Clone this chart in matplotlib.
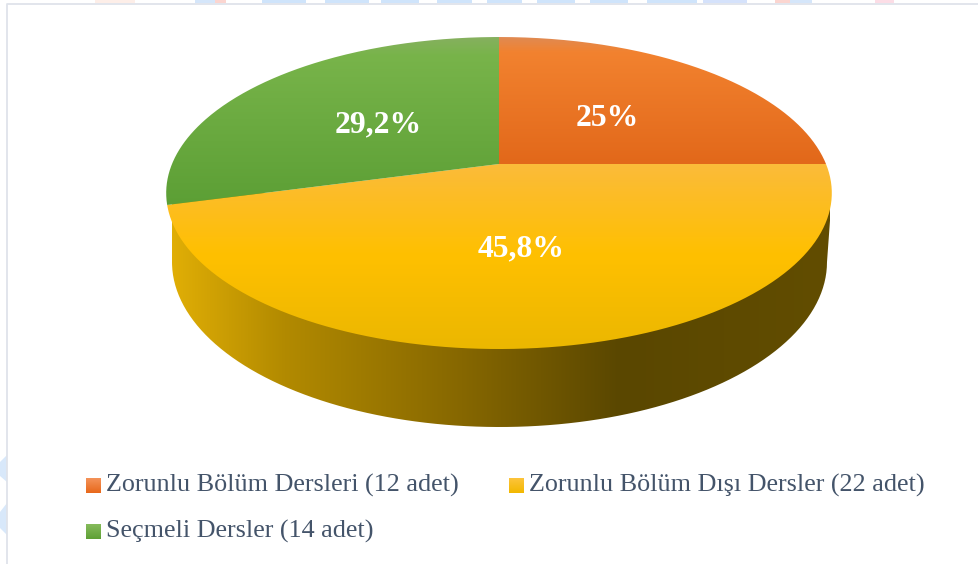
"""Pseudo-3D pie of course types, drawn in pixel coordinates."""

import matplotlib
matplotlib.use("Agg")

import matplotlib.pyplot as plt
import numpy as np
from matplotlib.colors import LinearSegmentedColormap
from matplotlib.patches import PathPatch, Polygon, Rectangle
from matplotlib.path import Path

categories = ["Zorunlu Bölüm Dersleri (12 adet)", "Zorunlu Bölüm Dışı Dersler (22 adet)", "Seçmeli Dersler (14 adet)"]
counts = [12, 22, 14]
pct_labels = ["25%", "45,8%", "29,2%"]

W, H = 979, 564
CX, CY = 499.0, 164.0
R, A, C = 327.0, 150.6, 0.186  # perspective of the top face
FACE_GRAD = [
    [(37, "#e08a52"), (52, "#f2822f"), (164, "#e2681a")],
    [(164, "#fbbb3a"), (255, "#ffc000"), (349, "#ebb700")],
    [(37, "#86b05f"), (55, "#78b44a"), (205, "#5c9f35")],
]
SIDE_GRAD = [(172, "#e0ae06"), (284, "#b28a00"), (462, "#866700"), (620, "#5a4700"), (830, "#624d00")]
SWATCH_GRAD = [("#f4935a", "#e8681a"), ("#fdc43c", "#f2b800"), ("#86bb5c", "#5ea035")]
TEXT_COLOR = "#44546a"


def project(theta):
    # theta clockwise from the top of the pie
    u, v = np.sin(theta), np.cos(theta)
    w = 1 + C * v
    return CX + R * u / w, CY - A * v / w


def gradient(ax, stops, x0, x1, y0, y1, clip, vertical=True):
    lo, hi = stops[0][0], stops[-1][0]
    cmap = LinearSegmentedColormap.from_list("g", [((p - lo) / (hi - lo), c) for p, c in stops])
    ramp = np.linspace(0, 1, 256)
    ramp = ramp[:, None] if vertical else ramp[None, :]
    im = ax.imshow(ramp, cmap=cmap, extent=(x0, x1, y1, y0), aspect="auto", interpolation="bilinear", zorder=2)
    im.set_clip_path(clip)


fig = plt.figure(figsize=(W / 100, H / 100), dpi=100)
ax = fig.add_axes([0, 0, 1, 1])

# faint page watermark showing around the chart frame
for x0, x1, col in [(95, 135, "#fdeee8"), (195, 215, "#d5e6fa"), (215, 226, "#fbd5d0"), (262, 306, "#cfe4fb"),
                    (325, 369, "#cfe4fb"), (381, 419, "#cfe4fb"), (437, 472, "#cfe4fb"), (487, 522, "#cfe4fb"),
                    (537, 575, "#cfe4fb"), (590, 628, "#cfe4fb"), (647, 697, "#cfe4fb"), (703, 747, "#d5e2fb"),
                    (775, 790, "#fbd5d0"), (790, 812, "#d5e6fa"), (875, 894, "#fcdde6")]:
    ax.add_patch(Rectangle((x0, 0), x1 - x0, 3, fc=col, ec="none", zorder=1))
ax.add_patch(Polygon([(7, 455), (7, 482), (0, 476), (0, 462)], fc="#d8e8fa", ec="none", zorder=1))
ax.add_patch(Polygon([(7, 503), (7, 535), (0, 528), (0, 512)], fc="#d8e8fa", ec="none", zorder=1))
ax.plot([7.5, 7.5, W], [H, 3.5, 3.5], color="#dfe3ea", lw=1.3, zorder=1)

# side wall
t = np.linspace(0, np.pi, 200)
wall = np.column_stack([499.5 + 327.5 * np.cos(t), 262 + 165 * np.sin(t)])
wall = np.vstack([[832, 193], wall, [167, 193], [832, 193]])
clip = PathPatch(Path(wall), transform=ax.transData, fc="none", ec="none")
ax.add_patch(clip)
gradient(ax, SIDE_GRAD, 172, 830, 0, H, clip, vertical=False)

# top face, slices clockwise from twelve o'clock
edges = np.cumsum([0] + counts) / sum(counts) * 2 * np.pi
for i in range(len(counts)):
    th = np.linspace(edges[i], edges[i + 1], 200)
    xs, ys = project(th)
    verts = np.vstack([[CX, CY], np.column_stack([xs, ys]), [CX, CY]])
    clip = PathPatch(Path(verts), transform=ax.transData, fc="none", ec="none")
    ax.add_patch(clip)
    stops = FACE_GRAD[i]
    gradient(ax, stops, 160, 840, stops[0][0], stops[-1][0], clip)

for label, x, y in zip(pct_labels, [607, 521, 378], [126, 256, 132]):
    ax.text(x, y, label, color="white", fontsize=22.8, fontweight="bold", family="Liberation Serif",
            ha="center", va="baseline", zorder=4)

# legend
legend_pos = [(86, 492), (509, 492), (86, 538)]
for i, (x, y) in enumerate(legend_pos):
    sw = Rectangle((x, y - 14), 15, 15, transform=ax.transData, fc="none", ec="none")
    ax.add_patch(sw)
    gradient(ax, [(y - 14, SWATCH_GRAD[i][0]), (y + 1, SWATCH_GRAD[i][1])], x, x + 15, y - 14, y + 1, sw)
    ax.text(x + 20, y, categories[i], color=TEXT_COLOR, fontsize=18.8, family="Liberation Serif",
            ha="left", va="baseline", zorder=4)

ax.set_xlim(0, W)
ax.set_ylim(H, 0)
ax.axis("off")
fig.savefig("out.png", dpi=100, facecolor="white")
plt.close(fig)
